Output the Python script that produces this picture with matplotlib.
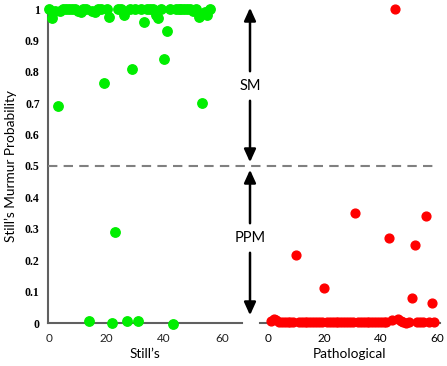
import matplotlib
matplotlib.use('Agg')
import matplotlib.pyplot as plt
from matplotlib.lines import Line2D
from matplotlib.patches import FancyArrowPatch

# Still's murmur cases, index 0..56
stills_prob = [1.0, 0.97, 0.995, 0.69, 0.995, 1.0, 1.0, 1.0, 1.0, 1.0,
               0.995, 0.99, 1.0, 1.0, 0.005, 0.995, 0.99, 1.0, 1.0, 0.765,
               1.0, 0.975, 0.0, 0.29, 1.0, 1.0, 0.98, 0.005, 1.0, 0.81,
               1.0, 0.005, 1.0, 0.96, 1.0, 1.0, 1.0, 0.98, 0.97, 1.0,
               0.84, 0.93, 1.0, -0.002, 1.0, 1.0, 1.0, 1.0, 1.0, 1.0,
               0.995, 1.0, 0.975, 0.70, 0.99, 0.98, 1.0]
stills_idx = list(range(len(stills_prob)))

# pathological cases, index 1..59
path_prob = [0.005, 0.012, 0.008, 0.002, 0.003, 0.002, 0.003, 0.002, 0.003, 0.215,
             0.002, 0.003, 0.002, 0.004, 0.002, 0.003, 0.002, 0.003, 0.002, 0.11,
             0.004, 0.003, 0.002, 0.003, 0.004, 0.002, 0.003, 0.002, 0.003, 0.002,
             0.35, 0.003, 0.002, 0.003, 0.002, 0.004, 0.003, 0.002, 0.003, 0.004,
             0.003, 0.004, 0.27, 0.01, 1.0, 0.012, 0.005, 0.002, 0.0, 0.003,
             0.08, 0.25, 0.002, 0.003, 0.002, 0.34, 0.003, 0.065, 0.003]
path_idx = list(range(1, len(path_prob) + 1))

yticks = [0, 0.1, 0.2, 0.3, 0.4, 0.5, 0.6, 0.7, 0.8, 0.9, 1]
ytick_labels = ['0', '0.1', '0.2', '0.3', '0.4', '0.5', '0.6', '0.7', '0.8', '0.9', '1']
xticks = [0, 20, 40, 60]

W, H = 447, 366
fig = plt.figure(figsize=(W / 100, H / 100), dpi=100)
sans = ['Lato', 'DejaVu Sans']
spine_col = '#606060'

bot = (H - 323) / H
top = (H - 9) / H
ax1 = fig.add_axes([48 / W, bot, (242 - 48) / W, top - bot])
ax2 = fig.add_axes([260 / W, bot, (440 - 260) / W, top - bot])

ax1.scatter(stills_idx, stills_prob, s=46, color='#00ee00', clip_on=False, zorder=3)
ax2.scatter(path_idx, path_prob, s=40, color='#ff0000', clip_on=False, zorder=3)

for ax in (ax1, ax2):
    ax.set_ylim(0, 1)
    for s in ('top', 'right'):
        ax.spines[s].set_visible(False)
    ax.spines['bottom'].set_color(spine_col)
    ax.spines['bottom'].set_linewidth(1.5)
    ax.set_xticks(xticks)
    ax.set_xticklabels([str(t) for t in xticks], fontfamily=sans, fontsize=8.5)
    ax.tick_params(axis='x', length=0, pad=7)

ax1.set_xlim(-0.3, 67)
ax2.set_xlim(-2.8, 61)
ax1.spines['left'].set_color(spine_col)
ax1.spines['left'].set_linewidth(1.5)
ax1.set_yticks(yticks)
ax1.set_yticklabels(ytick_labels, fontfamily='Liberation Serif', fontweight='bold', fontsize=8.5)
ax1.tick_params(axis='y', length=0, pad=6)
ax1.tick_params(axis='x', labelcolor='#222222')
ax2.spines['left'].set_visible(False)
ax2.set_yticks([])

ax1.set_xlabel("Still\u2019s", fontfamily=sans, fontsize=9.8, labelpad=3)
ax2.set_xlabel('Pathological', fontfamily=sans, fontsize=9.8, labelpad=3)
ax1.set_ylabel("Still\u2019s Murmur Probability", fontfamily=sans, fontsize=9.8, labelpad=6)

# dashed threshold line across both panels
yd = (H - 166) / H
fig.add_artist(Line2D([48 / W, 436 / W], [yd, yd], transform=fig.transFigure,
                      color='#808080', lw=1.5, ls=(0, (4.5, 3))))

# SM / PPM arrows
xa = 250 / W
def arrow(y0, y1):
    a = FancyArrowPatch((xa, (H - y0) / H), (xa, (H - y1) / H),
                        transform=fig.transFigure,
                        arrowstyle='-|>,head_length=0.55,head_width=0.25',
                        mutation_scale=14, lw=1.8, color='black')
    fig.add_artist(a)

arrow(74, 5)
arrow(98, 165)
arrow(226, 167)
arrow(250, 318)
fig.text(xa, (H - 86) / H, 'SM', ha='center', va='center', fontfamily=sans, fontsize=10.5)
fig.text(xa, (H - 238) / H, 'PPM', ha='center', va='center', fontfamily=sans, fontsize=10.5)

plt.savefig('out.png', dpi=100)
